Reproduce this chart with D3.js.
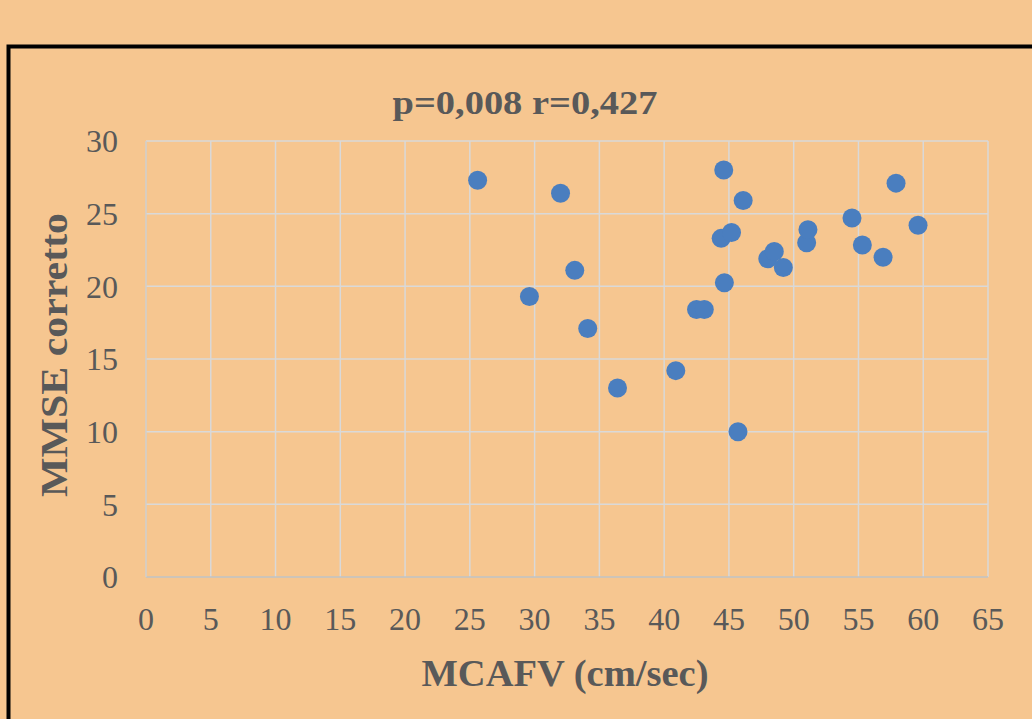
<!DOCTYPE html>
<html>
<head>
<meta charset="utf-8">
<script src="https://cdn.jsdelivr.net/npm/d3@7"></script>
<style>
  html, body { margin: 0; padding: 0; background: #f6c690; overflow: hidden; }
  svg { display: block; }
</style>
</head>
<body>
<script>
// Data
const mcafv = [25.6, 29.6, 32.0, 33.1, 34.1, 36.4, 40.9, 42.5, 43.1, 44.6, 44.4, 44.65, 45.2, 45.7, 46.1,
  48.0, 48.5, 49.2, 51.0, 51.1, 54.5, 55.3, 56.9, 57.9, 59.6];
const mmse = [27.3, 19.3, 26.4, 21.1, 17.1, 13.0, 14.2, 18.4, 18.4, 28.0, 23.3, 20.25, 23.7, 10.0, 25.9,
  21.9, 22.4, 21.3, 23.0, 23.9, 24.7, 22.85, 22.0, 27.1, 24.2];
const xTicks = d3.range(0, 66, 5);
const yTicks = d3.range(0, 31, 5);
const titleText = "p=0,008 r=0,427";
const xTitle = "MCAFV (cm/sec)";
const yTitle = "MMSE corretto";

const width = 1032, height = 719;
const margin = { top: 141, right: 44, bottom: 142, left: 146 };

const svg = d3.select("body").append("svg")
  .attr("width", width)
  .attr("height", height);

svg.append("rect")
  .attr("width", width).attr("height", height)
  .attr("fill", "#f6c690");

// black frame, runs off the right and bottom edges
svg.append("rect")
  .attr("x", 8.5).attr("y", 46.5)
  .attr("width", width + 20).attr("height", height)
  .attr("fill", "none")
  .attr("stroke", "#000")
  .attr("stroke-width", 4);

const x = d3.scaleLinear().domain([0, 65]).range([margin.left, width - margin.right]);
const y = d3.scaleLinear().domain([0, 30]).range([height - margin.bottom, margin.top]);

// gridlines
svg.append("g")
  .selectAll("line")
  .data(xTicks.slice(1))
  .join("line")
  .attr("x1", d => x(d)).attr("x2", d => x(d))
  .attr("y1", y(30)).attr("y2", y(0))
  .attr("stroke", "#d9d9d9").attr("stroke-width", 1.5);

svg.append("g")
  .selectAll("line")
  .data(yTicks.slice(1))
  .join("line")
  .attr("x1", x(0)).attr("x2", x(65))
  .attr("y1", d => y(d)).attr("y2", d => y(d))
  .attr("stroke", "#d9d9d9").attr("stroke-width", 1.5);

// axis lines
svg.append("line")
  .attr("x1", x(0)).attr("x2", x(65))
  .attr("y1", y(0)).attr("y2", y(0))
  .attr("stroke", "#bfc3c6").attr("stroke-width", 1.5);
svg.append("line")
  .attr("x1", x(0)).attr("x2", x(0))
  .attr("y1", y(30)).attr("y2", y(0))
  .attr("stroke", "#cfcfcf").attr("stroke-width", 1.5);

// tick labels
const font = "'Liberation Serif', 'Times New Roman', serif";
svg.append("g")
  .selectAll("text")
  .data(xTicks)
  .join("text")
  .attr("x", d => x(d))
  .attr("y", 630)
  .attr("text-anchor", "middle")
  .attr("font-family", font)
  .attr("font-size", 32)
  .attr("fill", "#595959")
  .text(d => d);

svg.append("g")
  .selectAll("text")
  .data(yTicks)
  .join("text")
  .attr("x", 118)
  .attr("y", d => y(d))
  .attr("dy", "0.35em")
  .attr("text-anchor", "end")
  .attr("font-family", font)
  .attr("font-size", 32)
  .attr("fill", "#595959")
  .text(d => d);

// points
svg.append("g")
  .selectAll("circle")
  .data(d3.zip(mcafv, mmse))
  .join("circle")
  .attr("cx", d => x(d[0]))
  .attr("cy", d => y(d[1]))
  .attr("r", 9.5)
  .attr("fill", "#4a7ebf");

// titles
svg.append("text")
  .attr("x", 525).attr("y", 114)
  .attr("text-anchor", "middle")
  .attr("font-family", font)
  .attr("font-weight", "bold")
  .attr("font-size", 34)
  .attr("textLength", 265)
  .attr("lengthAdjust", "spacingAndGlyphs")
  .attr("fill", "#595959")
  .text(titleText);

svg.append("text")
  .attr("x", 565).attr("y", 686)
  .attr("text-anchor", "middle")
  .attr("font-family", font)
  .attr("font-weight", "bold")
  .attr("font-size", 38)
  .attr("textLength", 287)
  .attr("lengthAdjust", "spacingAndGlyphs")
  .attr("fill", "#595959")
  .text(xTitle);

svg.append("text")
  .attr("transform", "translate(67,355) rotate(-90)")
  .attr("text-anchor", "middle")
  .attr("font-family", font)
  .attr("font-weight", "bold")
  .attr("font-size", 37)
  .attr("textLength", 284)
  .attr("lengthAdjust", "spacingAndGlyphs")
  .attr("fill", "#595959")
  .text(yTitle);
</script>
</body>
</html>
